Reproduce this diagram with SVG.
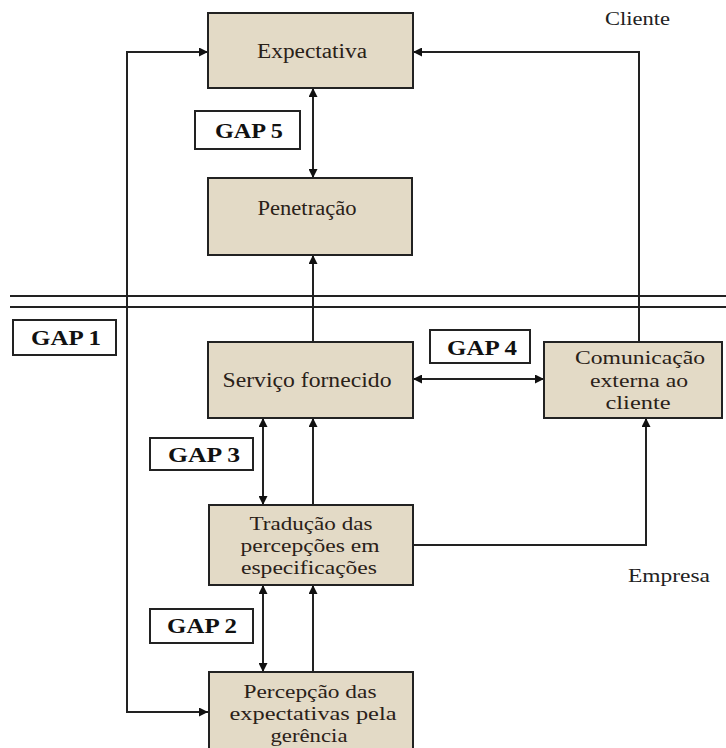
<svg xmlns="http://www.w3.org/2000/svg" width="726" height="748" viewBox="0 0 726 748">
<defs>
<marker id="ah" viewBox="0 0 10 10" refX="10" refY="5" markerWidth="9" markerHeight="9" markerUnits="userSpaceOnUse" orient="auto-start-reverse">
<path d="M0,0 L10,5 L0,10 z" fill="#111"/>
</marker>
<style>
.box{fill:#e3dac6;stroke:#222;stroke-width:2}
.gap{fill:#fff;stroke:#222;stroke-width:2}
.t{font-family:"Liberation Serif","DejaVu Serif","Times New Roman",serif;font-size:20px;fill:#2a2118;text-anchor:middle}
.m{font-size:19px}
.g{font-family:"Liberation Serif","DejaVu Serif","Times New Roman",serif;font-size:20px;font-weight:bold;fill:#111;text-anchor:middle}
.lbl{font-family:"Liberation Serif","DejaVu Serif","Times New Roman",serif;font-size:19px;fill:#222}
.c{fill:none;stroke:#222;stroke-width:2}
</style>
</defs>
<rect width="726" height="748" fill="#fff"/>
<g id="connectors">
<line class="c" x1="10" y1="296" x2="726" y2="296"/>
<line class="c" x1="10" y1="307" x2="726" y2="307"/>
<line class="c" x1="313" y1="88" x2="313" y2="178" marker-start="url(#ah)" marker-end="url(#ah)"/>
<line class="c" x1="313" y1="342" x2="313" y2="255" marker-end="url(#ah)"/>
<path class="c" d="M639 342 V52 H413" marker-end="url(#ah)"/>
<line class="c" x1="413" y1="379" x2="544" y2="379" marker-start="url(#ah)" marker-end="url(#ah)"/>
<line class="c" x1="263" y1="418" x2="263" y2="505" marker-start="url(#ah)" marker-end="url(#ah)"/>
<line class="c" x1="313" y1="505" x2="313" y2="418" marker-end="url(#ah)"/>
<path class="c" d="M413 545 H646 V418" marker-end="url(#ah)"/>
<line class="c" x1="263" y1="585" x2="263" y2="672" marker-start="url(#ah)" marker-end="url(#ah)"/>
<line class="c" x1="313" y1="672" x2="313" y2="585" marker-end="url(#ah)"/>
<path class="c" d="M208 52 H127 V712 H208" marker-start="url(#ah)" marker-end="url(#ah)"/>
</g>
<g id="expectativa"><rect class="box" x="208" y="13" width="205" height="75"/><text class="t" x="312" y="58" textLength="110" lengthAdjust="spacingAndGlyphs">Expectativa</text></g>
<g id="penetracao"><rect class="box" x="208" y="178" width="204" height="77"/><text class="t" x="307" y="215" textLength="99" lengthAdjust="spacingAndGlyphs">Penetração</text></g>
<g id="servico"><rect class="box" x="208" y="342" width="205" height="76"/><text class="t" x="307" y="387" textLength="169" lengthAdjust="spacingAndGlyphs">Serviço fornecido</text></g>
<g id="comunicacao"><rect class="box" x="544" y="342" width="178" height="76"/><text class="t m" x="640" y="364" textLength="130" lengthAdjust="spacingAndGlyphs">Comunicação</text><text class="t m" x="639" y="387" textLength="98" lengthAdjust="spacingAndGlyphs">externa ao</text><text class="t m" x="638" y="409" textLength="65" lengthAdjust="spacingAndGlyphs">cliente</text></g>
<g id="traducao"><rect class="box" x="209" y="505" width="204" height="80"/><text class="t m" x="311" y="530" textLength="123" lengthAdjust="spacingAndGlyphs">Tradução das</text><text class="t m" x="310" y="552" textLength="139" lengthAdjust="spacingAndGlyphs">percepções em</text><text class="t m" x="309" y="574" textLength="136" lengthAdjust="spacingAndGlyphs">especificações</text></g>
<g id="percepcao"><rect class="box" x="209" y="672" width="204" height="80"/><text class="t m" x="310" y="698" textLength="133" lengthAdjust="spacingAndGlyphs">Percepção das</text><text class="t m" x="313" y="720" textLength="167" lengthAdjust="spacingAndGlyphs">expectativas pela</text><text class="t m" x="309" y="742" textLength="77" lengthAdjust="spacingAndGlyphs">gerência</text></g>
<g id="gap5"><rect class="gap" x="195" y="111" width="105" height="38"/><text class="g" x="249" y="138" textLength="68" lengthAdjust="spacingAndGlyphs">GAP 5</text></g>
<g id="gap1"><rect class="gap" x="13" y="320" width="103" height="35"/><text class="g" x="66" y="345" textLength="70" lengthAdjust="spacingAndGlyphs">GAP 1</text></g>
<g id="gap4"><rect class="gap" x="430" y="330" width="100" height="33"/><text class="g" x="482" y="355" textLength="70" lengthAdjust="spacingAndGlyphs">GAP 4</text></g>
<g id="gap3"><rect class="gap" x="150" y="438" width="103" height="32"/><text class="g" x="204" y="462" textLength="72" lengthAdjust="spacingAndGlyphs">GAP 3</text></g>
<g id="gap2"><rect class="gap" x="150" y="609" width="103" height="34"/><text class="g" x="202" y="633" textLength="70" lengthAdjust="spacingAndGlyphs">GAP 2</text></g>
<g id="labels"><text class="lbl" x="605" y="25" textLength="65" lengthAdjust="spacingAndGlyphs">Cliente</text><text class="lbl" x="628" y="582" textLength="82" lengthAdjust="spacingAndGlyphs">Empresa</text></g>
</svg>
